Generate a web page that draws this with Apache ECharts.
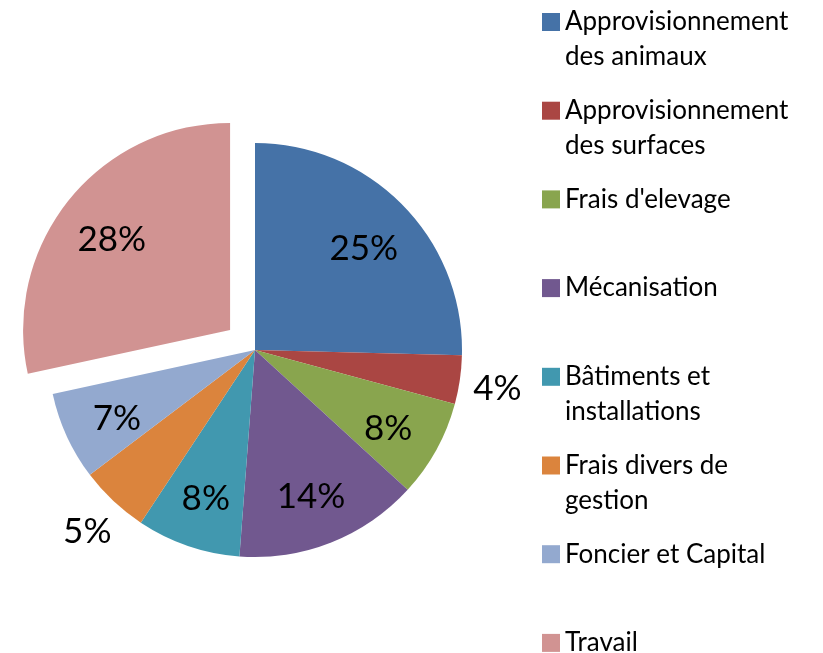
<!DOCTYPE html>
<html>
<head>
<meta charset="utf-8">
<script src="https://cdn.jsdelivr.net/npm/echarts@6/dist/echarts.min.js"></script>
<style>
html, body { margin: 0; padding: 0; background: #ffffff; }
#chart { width: 823px; height: 653px; }
</style>
</head>
<body>
<div id="chart"></div>
<script>
// ---- Data ----
const categories = [
  "Approvisionnement des animaux",
  "Approvisionnement des surfaces",
  "Frais d'elevage",
  "Mécanisation",
  "Bâtiments et installations",
  "Frais divers de gestion",
  "Foncier et Capital",
  "Travail"
];
const shares = [25.4, 3.8, 7.6, 14.4, 8.1, 5.4, 6.9, 28.4];
const legendLines = [
  ["Approvisionnement", "des animaux"],
  ["Approvisionnement", "des surfaces"],
  ["Frais d'elevage"],
  ["Mécanisation"],
  ["Bâtiments et", "installations"],
  ["Frais divers de", "gestion"],
  ["Foncier et Capital"],
  ["Travail"]
];
const colors = ['#4572A7', '#AA4643', '#89A54E', '#71588F', '#4198AF', '#DB843D', '#93A9CF', '#D19392'];
const explodedCategory = "Travail";
const outsideLabelCategories = ["Approvisionnement des surfaces", "Frais divers de gestion"];

// ---- Chart ----
const chart = echarts.init(document.getElementById('chart'), null, { renderer: 'canvas' });
const pieCenter = [255, 350];
const pctFormatter = p => Math.round(p.value) + '%';
const labelFont = { color: '#000', fontSize: 35, fontFamily: 'Lato' };

// Each legend text is 3 lines tall, with its first real line centred on the marker.
function legendText(name) {
  const lines = legendLines[categories.indexOf(name)];
  const second = lines.length > 1 ? lines[1] : ' ';
  return ' \n' + lines[0] + '\n' + second;
}

function buildData(labelShow) {
  return categories.map((name, i) => ({
    name: name,
    value: shares[i],
    selected: name === explodedCategory,
    label: { show: labelShow(name) }
  }));
}

const common = {
  type: 'pie',
  center: pieCenter,
  startAngle: 90,
  clockwise: true,
  selectedMode: 'single',
  selectedOffset: 32,
  avoidLabelOverlap: false,
  labelLine: { show: false },
  emphasis: { disabled: true }
};

const option = {
  animation: false,
  color: colors,
  legend: {
    orient: 'vertical',
    left: 542,
    top: -30.5,
    height: 1000,
    padding: 0,
    itemGap: -16.3,
    itemWidth: 18,
    itemHeight: 18,
    icon: 'rect',
    selectedMode: false,
    data: categories,
    formatter: legendText,
    textStyle: {
      color: '#000',
      fontFamily: 'Lato',
      fontSize: 26,
      lineHeight: 35
    }
  },
  series: [
    Object.assign({}, common, {
      name: 'main',
      radius: 207,
      itemStyle: { borderWidth: 0 },
      label: { show: false },
      data: buildData(() => false)
    }),
    Object.assign({}, common, {
      name: 'innerLabels',
      radius: [91, 207],
      silent: true,
      itemStyle: { color: 'rgba(0,0,0,0)', borderWidth: 0 },
      label: Object.assign({ show: true, position: 'inside', formatter: pctFormatter }, labelFont),
      labelLayout: { dy: 5 },
      data: buildData(name => outsideLabelCategories.indexOf(name) < 0)
    }),
    Object.assign({}, common, {
      name: 'outerLabels',
      radius: [232, 252],
      silent: true,
      itemStyle: { color: 'rgba(0,0,0,0)', borderWidth: 0 },
      label: Object.assign({ show: true, position: 'inside', formatter: pctFormatter }, labelFont),
      labelLayout: { dy: 3 },
      data: buildData(name => outsideLabelCategories.indexOf(name) >= 0)
    })
  ]
};
chart.setOption(option);
</script>
</body>
</html>
